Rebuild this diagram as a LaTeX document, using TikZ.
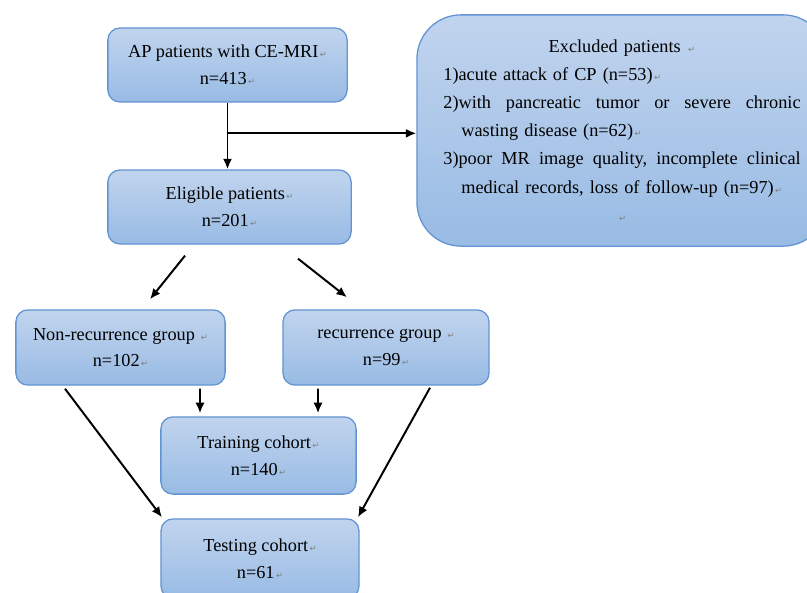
\documentclass[tikz,border=0pt]{standalone}
\usepackage{fontspec}
\setmainfont{Liberation Serif}
\newfontfamily\symfont{DejaVu Sans}
\usetikzlibrary{arrows.meta,calc}
\definecolor{boxtop}{RGB}{193,212,238}
\definecolor{boxbot}{RGB}{152,187,228}
\definecolor{boxline}{RGB}{98,148,210}
\newcommand{\retmark}{{\symfont\fontsize{6pt}{6pt}\selectfont\color{gray}\,\char"21B5}}
\begin{document}
\begin{tikzpicture}[x=0.025cm, y=-0.025cm,
    box/.style={draw=boxline, line width=0.9pt, rounded corners=0.3cm, top color=boxtop, bottom color=boxbot,
        align=center, inner sep=0pt, font=\fontsize{13pt}{19pt}\selectfont},
    arr/.style={-{Latex[length=7.5pt,width=6.5pt]}, line width=1.4pt}]
    \useasboundingbox (0,0) rectangle (807,592);
    % boxes
    \node[box, minimum width=5.98cm, minimum height=1.85cm] (ap) at (227.5,65) {AP patients with CE-MRI\retmark\\n=413\retmark};
    \node[box, minimum width=6.08cm, minimum height=1.85cm] (elig) at (229.5,207) {Eligible patients\retmark\\n=201\retmark};
    \node[box, minimum width=5.23cm, minimum height=1.88cm] (nonrec) at (120.5,347.5) {Non-recurrence group \retmark\\n=102\retmark};
    \node[box, minimum width=5.15cm, minimum height=1.88cm] (rec) at (386,347.5) {recurrence group \retmark\\n=99\retmark};
    \node[box, minimum width=4.88cm, minimum height=1.93cm] (train) at (258.5,455.5) {Training cohort\retmark\\n=140\retmark};
    \node[box, minimum width=4.95cm, minimum height=1.98cm] (test) at (260,558.5) {Testing cohort\retmark\\n=61\retmark};
    \node[box, rounded corners=1.1cm, minimum width=10.25cm, minimum height=5.78cm, text width=8.93cm, align=left,
        font=\fontsize{13pt}{20pt}\selectfont] (excl) at (622,130.5) {%
        \makebox[8.93cm]{Excluded patients \retmark}\\
        1)acute attack of CP (n=53)\retmark\\
        \makebox[8.93cm][s]{2)with\hfill pancreatic\hfill tumor\hfill or\hfill severe\hfill chronic}\\
        \hspace*{0.45cm}wasting disease (n=62)\retmark\\
        \makebox[8.93cm][s]{3)poor\hfill MR\hfill image\hfill quality,\hfill incomplete\hfill clinical}\\
        \hspace*{0.45cm}medical records, loss of follow-up (n=97)\retmark\\
        \makebox[8.93cm]{\retmark}};
    % connectors
    \coordinate (br) at ($(ap.south)!0.46!(ap.south |- elig.north)$);
    \draw[arr] (ap.south) -- (ap.south |- elig.north);
    \draw[arr] (br) -- (br -| excl.west);
    \draw[arr] ($(elig.south)+(-44.5,11)$) -- ($(nonrec.north)+(29.5,-10)$);
    \draw[arr] ($(elig.south)+(68.5,14)$) -- ($(rec.north)+(-39,-12)$);
    \draw[arr] ($(nonrec.south)+(79.5,3)$) -- ($(train.north)+(-58.5,-3)$);
    \draw[arr] ($(rec.south)+(-68,3)$) -- ($(train.north)+(59.5,-3)$);
    \draw[arr] ($(nonrec.south)+(-55.5,3)$) -- ($(test.north)+(-98,-1)$);
    \draw[arr] ($(rec.south)+(44,2)$) -- ($(test.north)+(98,-1)$);
\end{tikzpicture}
\end{document}
